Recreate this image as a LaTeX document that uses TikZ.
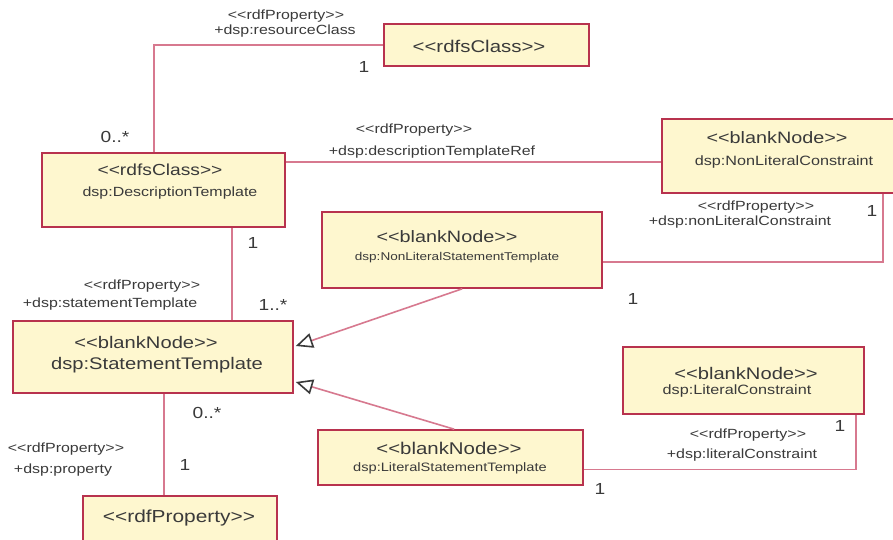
\documentclass[tikz,border=0pt]{standalone}
\usepackage{fontspec}
\setmainfont[FakeStretch=1.2]{Liberation Sans}
\usetikzlibrary{arrows.meta,calc}
\definecolor{boxfill}{HTML}{FEF7CF}
\definecolor{boxline}{HTML}{B8324E}
\definecolor{conn}{HTML}{D7798F}
\definecolor{txt}{HTML}{3A3A3A}
\newcommand\stereo[1]{<{}<#1>{}>}
\begin{document}
\begin{tikzpicture}[x=1pt,y=-1pt,
  umlbox/.style={draw=boxline,fill=boxfill,line width=1.6pt,inner sep=0pt,rectangle},
  tx/.style={inner sep=0pt,text=txt,font=\fontsize{#1}{#1}\selectfont},
  assoc/.style={draw=conn,line width=1.6pt},
  gen/.style={assoc,-{Triangle[open,length=17pt,width=15pt,color=txt,line width=1.6pt]}}
]
\useasboundingbox (0,0) rectangle (893,539);
\fill[white] (0,0) rectangle (893,539);

% boxes
\node[umlbox,minimum width=205pt,minimum height=42pt] (rc) at (486.5,45) {};
\node[umlbox,minimum width=243pt,minimum height=74pt] (dt) at (163.5,190) {};
\node[umlbox,minimum width=240pt,minimum height=74pt] (nlc) at (782,156) {};
\node[umlbox,minimum width=280pt,minimum height=76pt] (nlst) at (462,250) {};
\node[umlbox,minimum width=280pt,minimum height=72pt] (st) at (153,357) {};
\node[umlbox,minimum width=241pt,minimum height=67pt] (lc) at (743.5,380.5) {};
\node[umlbox,minimum width=265pt,minimum height=55pt] (lst) at (450.5,457.5) {};
\node[umlbox,minimum width=194pt,minimum height=50pt] (rdfp) at (180,521) {};

% box texts
\node[tx=17] (rct) at (479,46) {\stereo{rdfsClass}};
\node[tx=16] (dt1) at (160,170) {\stereo{rdfsClass}};
\node[tx=13.3] (dt2) at (170,193) {dsp:DescriptionTemplate};
\node[tx=16.5] (nlc1) at (777,138) {\stereo{blankNode}};
\node[tx=13.5] (nlc2) at (784,162) {dsp:NonLiteralConstraint};
\node[tx=16.5] (nlst1) at (447,237) {\stereo{blankNode}};
\node[tx=11.3] (nlst2) at (457,258) {dsp:NonLiteralStatementTemplate};
\node[tx=16.8] (st1) at (146,342) {\stereo{blankNode}};
\node[tx=16.8] (st2) at (157,365) {dsp:StatementTemplate};
\node[tx=16.8] (lc1) at (746,373) {\stereo{blankNode}};
\node[tx=13.5] (lc2) at (737,391) {dsp:LiteralConstraint};
\node[tx=17] (lst1) at (449,448) {\stereo{blankNode}};
\node[tx=12.2] (lst2) at (450,468) {dsp:LiteralStatementTemplate};
\node[tx=17.4] (rdfpt) at (179,518) {\stereo{rdfProperty}};

% connectors
\draw[assoc] ($(dt.north west)+(113,0)$) |- (rc.west);
\coordinate (a2) at ($(dt.north east)+(0,10)$);
\draw[assoc] (a2) -- (a2 -| nlc.west);
\draw[assoc] ($(nlst.east)+(0,12)$) -| ($(nlc.south west)+(222,0)$);
\coordinate (a4) at ($(dt.south west)+(191,0)$);
\draw[assoc] (a4) -- (a4 |- st.north);
\draw[gen] ($(nlst.south west)+(141,0)$) -- ($(st.east)+(2,-11)$);
\draw[gen] ($(lst.north west)+(137,0)$) -- ($(st.east)+(2,25)$);
\coordinate (a7) at ($(st.south west)+(152,0)$);
\draw[assoc] (a7) -- (a7 |- rdfp.north);
\draw[assoc] ($(lst.east)+(0,12)$) -| ($(lc.south west)+(234,0)$);

% association labels
\node[tx=13.3] (l1a) at (286,16) {\stereo{rdfProperty}};
\node[tx=13.3] (l1b) at (285,31) {+dsp:resourceClass};
\node[tx=16] (m1a) at (115,137) {0..*};
\node[tx=16] (m1b) at (364,67) {1};
\node[tx=13.3] (l2a) at (414,130) {\stereo{rdfProperty}};
\node[tx=13.3] (l2b) at (432,152) {+dsp:descriptionTemplateRef};
\node[tx=13.3] (l3a) at (756,207) {\stereo{rdfProperty}};
\node[tx=13.3] (l3b) at (740,222) {+dsp:nonLiteralConstraint};
\node[tx=16] (m3a) at (872,211) {1};
\node[tx=16] (m3b) at (633,299) {1};
\node[tx=16] (m4a) at (253,243) {1};
\node[tx=13.3] (l4a) at (142,286) {\stereo{rdfProperty}};
\node[tx=13.3] (l4b) at (110,304) {+dsp:statementTemplate};
\node[tx=16] (m4b) at (273,305) {1..*};
\node[tx=16] (m7a) at (207,413) {0..*};
\node[tx=16] (m7b) at (185,465) {1};
\node[tx=13.3] (l7a) at (66,449) {\stereo{rdfProperty}};
\node[tx=13.3] (l7b) at (63,470) {+dsp:property};
\node[tx=13.3] (l8a) at (748,435) {\stereo{rdfProperty}};
\node[tx=13.3] (l8b) at (742,455) {+dsp:literalConstraint};
\node[tx=16] (m8a) at (840,426) {1};
\node[tx=16] (m8b) at (600,489) {1};
\end{tikzpicture}
\end{document}
